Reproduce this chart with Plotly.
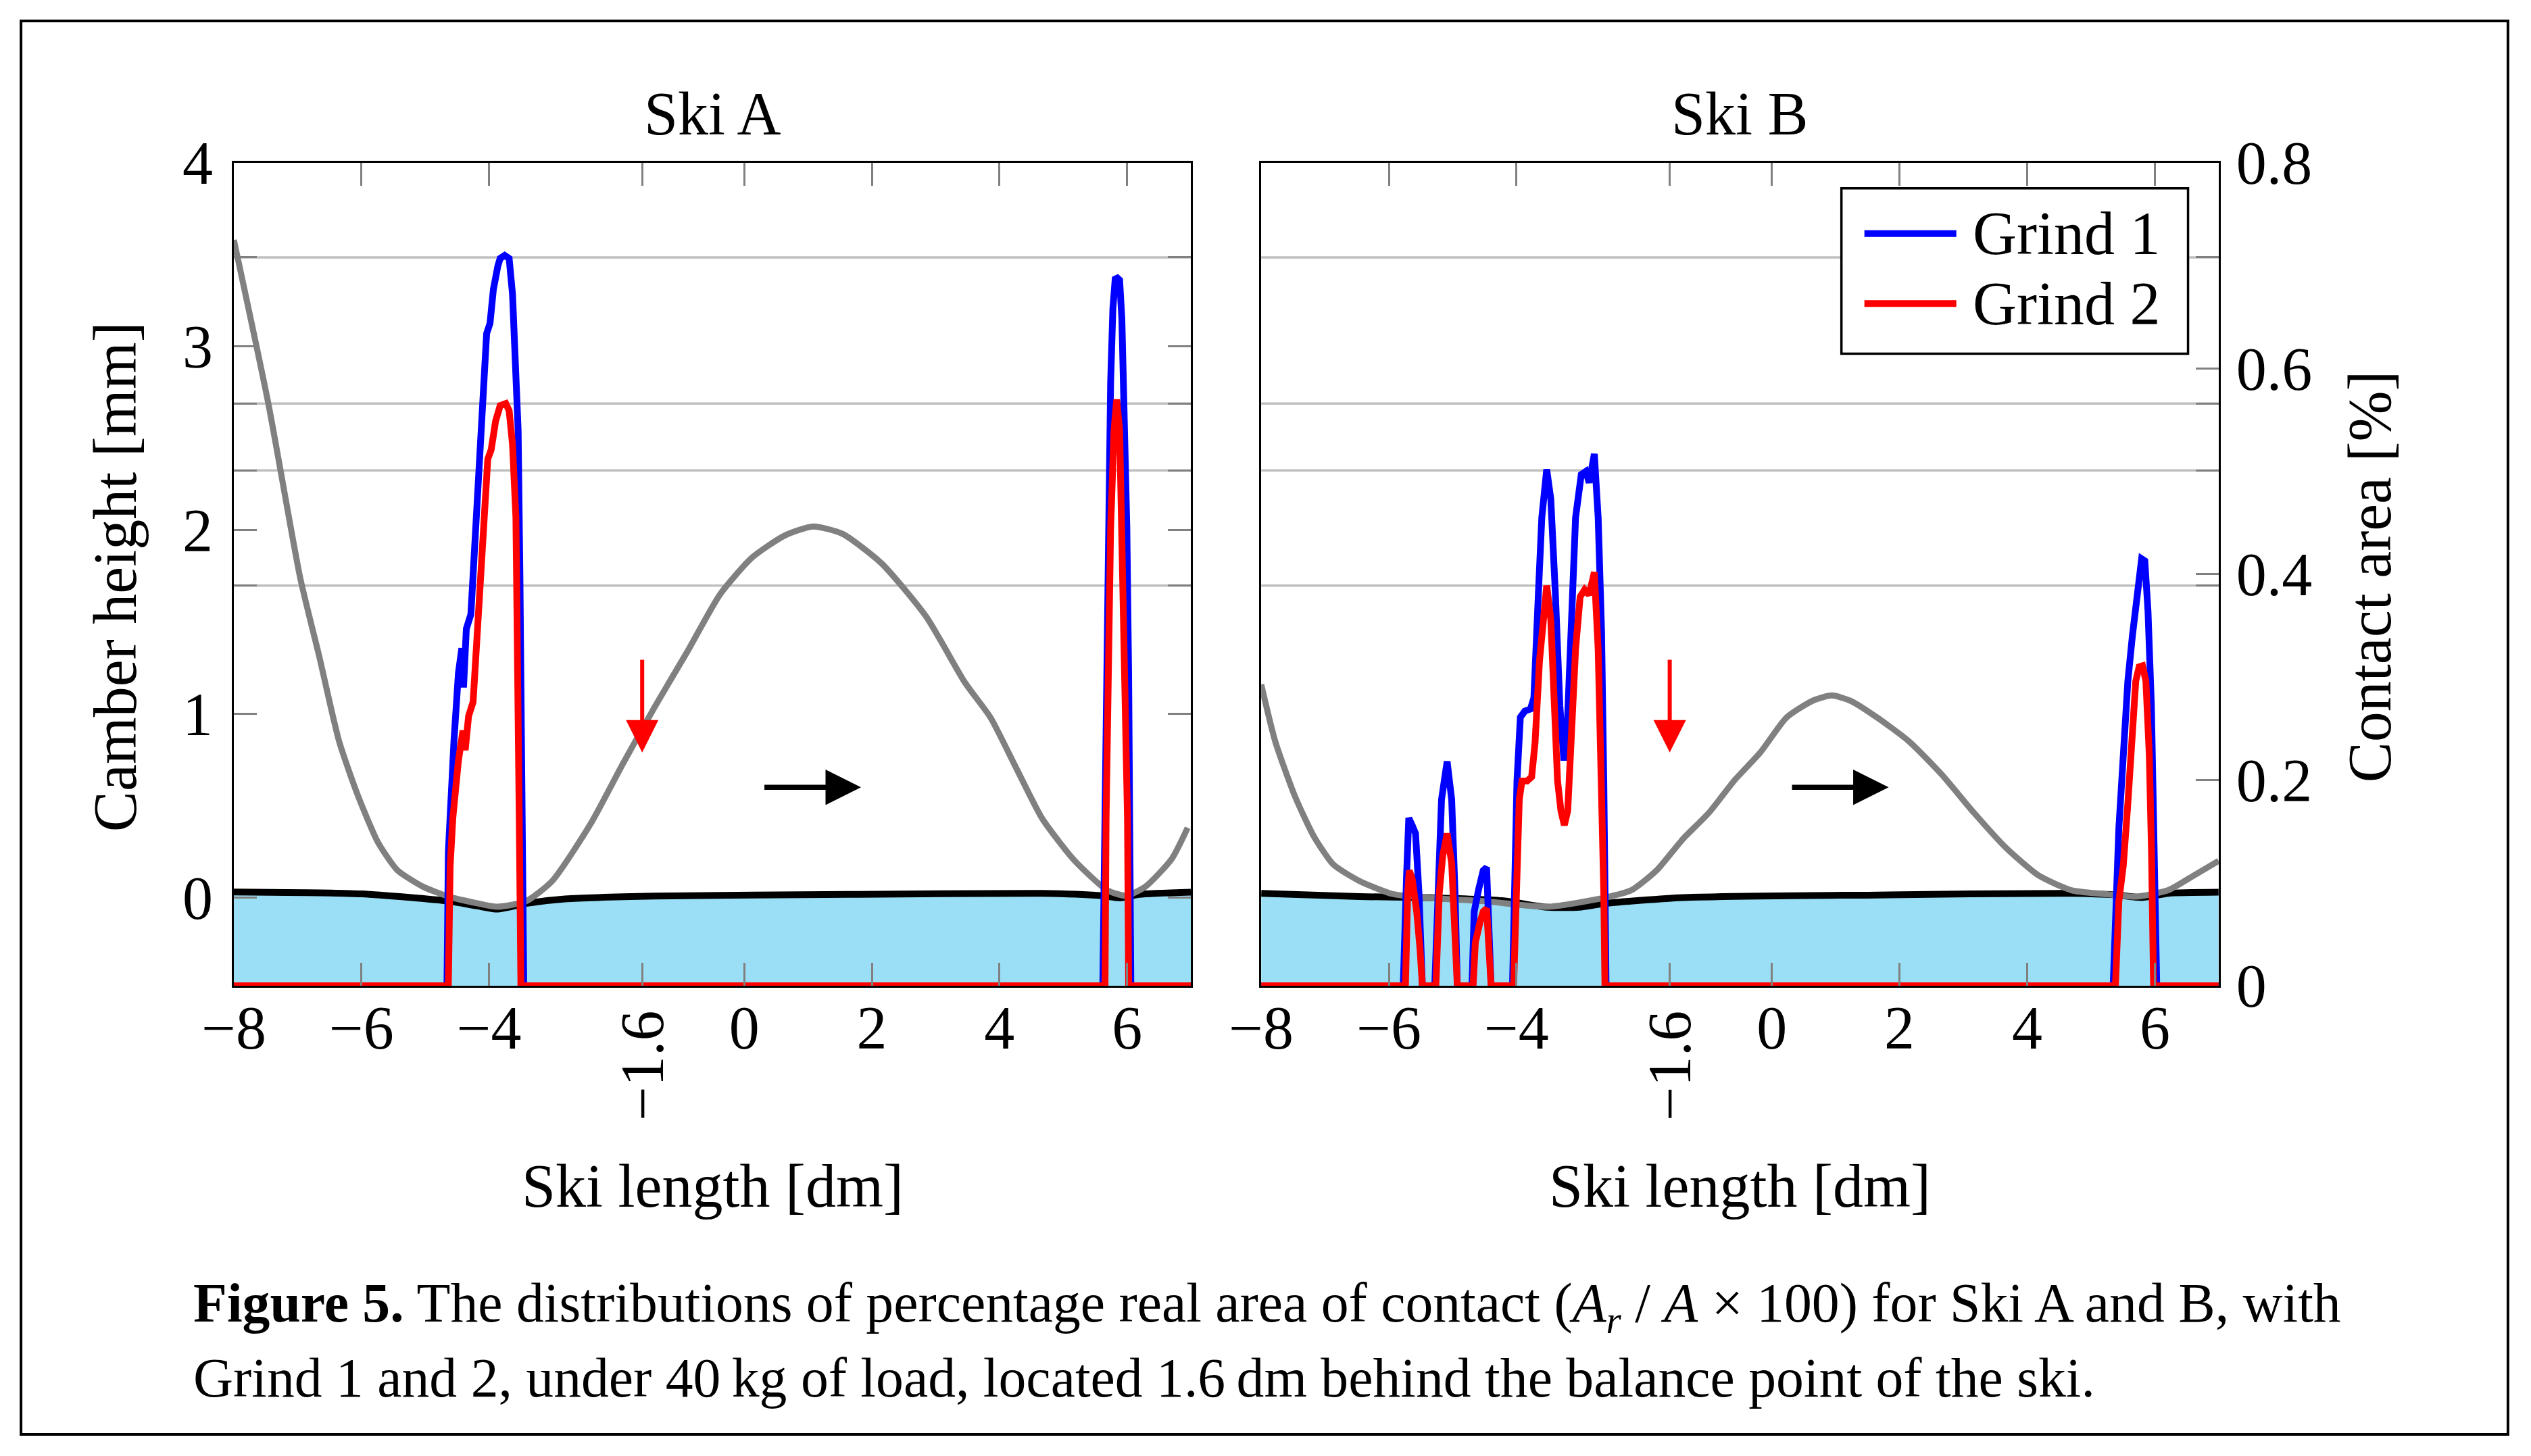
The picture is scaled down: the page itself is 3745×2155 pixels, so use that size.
import plotly.graph_objects as go

# ----------------------------------------------------------------- data ----
X_RANGE = [-8, 7]                      # ski length [dm]
CAMBER_RANGE = [-0.48, 4]              # camber height [mm]
CONTACT_RANGE = [0, 0.8]               # contact area [%]

X_TICKS = [-8, -6, -4, 0, 2, 4, 6]
X_TICK_TEXT = ["−8", "−6", "−4", "0", "2", "4", "6"]
LOAD_POS = -1.6                         # load position [dm], rotated tick
LOAD_TICK_TEXT = "−1.6"
CAMBER_TICKS = [0, 1, 2, 3, 4]
CAMBER_TICK_TEXT = ["0", "1", "2", "3", "4"]
CONTACT_TICKS = [0, 0.2, 0.4, 0.6, 0.8]
CONTACT_TICK_TEXT = ["0", "0.2", "0.4", "0.6", "0.8"]
PEAK_LEVELS = [0.389, 0.501, 0.566, 0.708]   # reference lines, contact area [%]

LOAD_ARROW_Y = [1.30, 0.79]             # [mm] start, tip
DIR_ARROW_X = [0.30, 1.83]              # [dm] start, tip
DIR_ARROW_Y = 0.60                      # [mm]

# Ski A - camber (grey)
A_camber_x = [-8.0, -7.46, -6.96, -6.66, -6.35, -6.05, -5.74, -5.44, -5.04, -4.63,
              -4.2, -3.87, -3.42, -3.01, -2.41, -1.90, -1.40, -0.89, -0.38, 0.12,
              0.63, 1.08, 1.54, 2.15, 2.85, 3.46, 3.86, 4.27, 4.67, 5.18,
              5.69, 5.99, 6.29, 6.70, 6.95]
A_camber_y = [3.58, 2.69, 1.74, 1.31, 0.85, 0.55, 0.30, 0.15, 0.06, 0.005,
              -0.03, -0.05, -0.02, 0.09, 0.40, 0.73, 1.04, 1.34, 1.65, 1.85,
              1.97, 2.02, 1.98, 1.82, 1.53, 1.17, 0.98, 0.70, 0.43, 0.20,
              0.04, 0.01, 0.06, 0.21, 0.38]
# Ski A - base profile (black)
A_base_x = [-8, -6, -4.63, -4.2, -3.87, -3.42, -2.81, -1.40, 1.64, 4.67, 5.58, 5.89, 6.19, 7.0]
A_base_y = [0.03, 0.02, -0.02, -0.045, -0.063, -0.032, -0.008, 0.008, 0.017, 0.023, 0.011, -0.002, 0.017, 0.029]
# Ski A - contact area, Grind 1
A_g1_x = [-8, -4.66, -4.638, -4.603, -4.55, -4.48, -4.427, -4.40, -4.356, -4.285, -4.25,
          -4.179, -4.109, -4.038, -3.985, -3.932, -3.861, -3.826, -3.755, -3.685, -3.632,
          -3.579, -3.544, -3.516, -3.501, -3.48, -3.456,
          5.62, 5.644, 5.672, 5.70, 5.743, 5.778, 5.814, 5.849, 5.884, 5.919, 5.955,
          5.997, 6.025, 6.043, 6.06, 7]
A_g1_y = [0, 0, 0.13, 0.186, 0.238, 0.304, 0.328, 0.29, 0.347, 0.361, 0.398,
          0.493, 0.564, 0.634, 0.644, 0.677, 0.700, 0.707, 0.710, 0.707, 0.672,
          0.610, 0.540, 0.398, 0.257, 0.116, 0,
          0, 0.139, 0.304, 0.445, 0.587, 0.658, 0.687, 0.688, 0.686, 0.648, 0.564,
          0.445, 0.304, 0.163, 0, 0]
# Ski A - contact area, Grind 2
A_g2_x = [-8, -4.638, -4.61, -4.568, -4.48, -4.409, -4.374, -4.321, -4.25, -4.179, -4.109,
          -4.02, -3.967, -3.897, -3.826, -3.738, -3.685, -3.632, -3.579, -3.544, -3.527, -3.501,
          5.655, 5.672, 5.708, 5.743, 5.796, 5.838, 5.884, 5.919, 5.972, 6.007, 6.025, 7]
A_g2_y = [0, 0, 0.116, 0.163, 0.219, 0.248, 0.229, 0.262, 0.276, 0.351, 0.445,
          0.512, 0.521, 0.549, 0.564, 0.566, 0.559, 0.526, 0.455, 0.304, 0.163, 0,
          0, 0.163, 0.304, 0.445, 0.540, 0.570, 0.540, 0.445, 0.304, 0.163, 0, 0]

# Ski B - camber (grey)
B_camber_x = [-8, -7.78, -7.47, -7.17, -6.87, -6.46, -5.95, -5.45, -4.5, -3.5,
              -2.61, -2.20, -1.80, -1.39, -0.99, -0.58, -0.18, 0.23, 0.63, 0.94,
              1.24, 1.65, 2.15, 2.66, 3.17, 3.67, 4.18, 4.69, 5.19, 5.70,
              6.21, 6.61, 7.0]
B_camber_y = [1.16, 0.85, 0.55, 0.33, 0.18, 0.09, 0.02, 0.0, -0.02, -0.05,
              0.0, 0.04, 0.15, 0.32, 0.46, 0.64, 0.79, 0.98, 1.07, 1.10,
              1.07, 0.98, 0.85, 0.67, 0.46, 0.27, 0.12, 0.04, 0.02, 0.005,
              0.04, 0.12, 0.20]
# Ski B - base profile (black)
B_base_x = [-8, -6.46, -5.45, -4.23, -3.52, -3.015, -2.61, -1.39, 1.65, 4.69, 5.40, 5.80, 6.21, 7.0]
B_base_y = [0.023, 0.005, 0.0, -0.017, -0.053, -0.053, -0.032, 0.0, 0.014, 0.023, 0.014, 0.0, 0.023, 0.029]
# Ski B - contact area, Grind 1
B_g1_x = [-8, -5.775, -5.722, -5.688, -5.635, -5.582, -5.528, -5.475,
          -5.281, -5.228, -5.175, -5.087, -5.016, -4.963, -4.928,
          -4.698, -4.663, -4.592, -4.522, -4.469, -4.433, -4.398,
          -4.063, -4.028, -3.993, -3.940, -3.869, -3.781, -3.728, -3.657, -3.604, -3.527,
          -3.463, -3.392, -3.321, -3.258, -3.209, -3.145, -3.075, -2.986, -2.915, -2.862,
          -2.781, -2.721, -2.668, -2.633, -2.615, -2.597,
          5.347, 5.383, 5.436, 5.506, 5.577, 5.648, 5.70, 5.73, 5.793, 5.843, 5.893,
          5.946, 5.981, 6.006, 6.03, 7]
B_g1_y = [0, 0, 0.108, 0.163, 0.156, 0.148, 0.090, 0,
          0, 0.090, 0.181, 0.218, 0.181, 0.090, 0,
          0, 0.072, 0.094, 0.112, 0.115, 0.072, 0,
          0, 0.090, 0.199, 0.261, 0.267, 0.269, 0.280, 0.382, 0.455, 0.502,
          0.473, 0.382, 0.272, 0.219, 0.247, 0.345, 0.455, 0.497, 0.500, 0.489,
          0.517, 0.455, 0.345, 0.199, 0.090, 0,
          0, 0.082, 0.153, 0.224, 0.296, 0.340, 0.37, 0.391, 0.415, 0.413, 0.364,
          0.272, 0.177, 0.082, 0, 0]
# Ski B - contact area, Grind 2
B_g2_x = [-8, -5.74, -5.705, -5.68, -5.635, -5.564, -5.511, -5.475,
          -5.263, -5.21, -5.157, -5.087, -5.016, -4.963, -4.928,
          -4.68, -4.645, -4.575, -4.522, -4.469, -4.433, -4.398,
          -4.045, -3.993, -3.957, -3.915, -3.834, -3.763, -3.71, -3.64, -3.587, -3.527,
          -3.463, -3.41, -3.357, -3.304, -3.251, -3.198, -3.145, -3.075, -3.004, -2.933,
          -2.862, -2.781, -2.721, -2.668, -2.633, -2.615,
          5.383, 5.436, 5.506, 5.577, 5.648, 5.701, 5.754, 5.807, 5.860, 5.913,
          5.948, 5.966, 5.98, 7]
B_g2_y = [0, 0, 0.090, 0.112, 0.104, 0.072, 0.035, 0,
          0, 0.090, 0.126, 0.148, 0.119, 0.053, 0,
          0, 0.042, 0.061, 0.072, 0.075, 0.046, 0,
          0, 0.090, 0.181, 0.199, 0.199, 0.203, 0.236, 0.316, 0.360, 0.389,
          0.356, 0.272, 0.199, 0.170, 0.156, 0.170, 0.236, 0.327, 0.378, 0.385,
          0.380, 0.402, 0.327, 0.199, 0.090, 0,
          0, 0.082, 0.117, 0.177, 0.248, 0.296, 0.310, 0.311, 0.296, 0.224,
          0.129, 0.058, 0, 0]

TITLES = ["Ski A", "Ski B"]
X_TITLE = "Ski length [dm]"
Y_TITLE_LEFT = "Camber height [mm]"
Y_TITLE_RIGHT = "Contact area [%]"
LEGEND_NAMES = ["Grind 1", "Grind 2"]
CAPTION_1 = ("<b>Figure 5.</b> The distributions of percentage real area of contact "
             "(<i>A<sub>r</sub></i> / <i>A</i> × 100) for Ski A and B, with")
CAPTION_2 = ("Grind 1 and 2, under 40\u2009kg of load, located 1.6\u2009dm behind "
             "the balance point of the ski.")

# ---------------------------------------------------------------- style ----
FONT = "Liberation Serif, Times New Roman, serif"
FS = 90
BLUE, RED, GREY = "#0000ff", "#ff0000", "#808080"
FILL = "#9bdff7"
TICKC = "#808080"
LW = 10

W, H = 3745, 2155
XA_DOM = [0.0924, 0.4705]
XB_DOM = [0.4983, 0.8766]
Y_DOM = [0.3230, 0.8882]

fig = go.Figure()

panels = [
    dict(x="x", y="y", yc="y2", cam=(A_camber_x, A_camber_y), base=(A_base_x, A_base_y),
         g1=(A_g1_x, A_g1_y), g2=(A_g2_x, A_g2_y)),
    dict(x="x2", y="y3", yc="y4", cam=(B_camber_x, B_camber_y), base=(B_base_x, B_base_y),
         g1=(B_g1_x, B_g1_y), g2=(B_g2_x, B_g2_y)),
]

for p in panels:
    # baseline at the bottom of the camber axis, for the filled area
    fig.add_trace(go.Scatter(x=X_RANGE, y=[CAMBER_RANGE[0]] * 2, mode="lines",
                             line=dict(width=0, color=FILL), xaxis=p["x"], yaxis=p["y"],
                             showlegend=False, hoverinfo="skip"))
    fig.add_trace(go.Scatter(x=p["base"][0], y=p["base"][1], mode="lines", fill="tonexty",
                             fillcolor=FILL, line=dict(color="black", width=10, shape="spline",
                                                       smoothing=0.6),
                             xaxis=p["x"], yaxis=p["y"], showlegend=False))
    fig.add_trace(go.Scatter(x=p["cam"][0], y=p["cam"][1], mode="lines",
                             line=dict(color=GREY, width=9, shape="spline", smoothing=0.6),
                             xaxis=p["x"], yaxis=p["y"], showlegend=False))
    fig.add_trace(go.Scatter(x=p["g1"][0], y=p["g1"][1], mode="lines", name=LEGEND_NAMES[0],
                             line=dict(color=BLUE, width=LW), xaxis=p["x"], yaxis=p["yc"],
                             showlegend=False))
    fig.add_trace(go.Scatter(x=p["g2"][0], y=p["g2"][1], mode="lines", name=LEGEND_NAMES[1],
                             line=dict(color=RED, width=LW), xaxis=p["x"], yaxis=p["yc"],
                             showlegend=False))

# ----------------------------------------------------------------- axes ----
contact_to_camber = lambda c: CAMBER_RANGE[0] + (c - CONTACT_RANGE[0]) / (
    CONTACT_RANGE[1] - CONTACT_RANGE[0]) * (CAMBER_RANGE[1] - CAMBER_RANGE[0])
extra_camber = [contact_to_camber(v) for v in PEAK_LEVELS]

tfont = dict(family=FONT, size=FS, color="black")
tick_style = dict(ticks="inside", ticklen=34, tickwidth=2.5, tickcolor=TICKC)
common_x = dict(range=X_RANGE, tickvals=X_TICKS, ticktext=X_TICK_TEXT, mirror="ticks",
                showline=True, linecolor="black", linewidth=3, showgrid=False, zeroline=False,
                tickfont=tfont, ticklabelstandoff=-18, automargin=False, tickangle=0,
                minor=dict(tickvals=[LOAD_POS], showgrid=False, **tick_style), **tick_style)

fig.update_layout(
    template="none",
    width=W, height=H, autosize=False,
    margin=dict(l=0, r=0, t=0, b=0, pad=0, autoexpand=False),
    paper_bgcolor="white", plot_bgcolor="white", showlegend=False,
    font=dict(family=FONT, size=FS, color="black"),
    xaxis=dict(domain=XA_DOM, anchor="y", **common_x),
    xaxis2=dict(domain=XB_DOM, anchor="y3", **common_x),
    yaxis=dict(domain=Y_DOM, anchor="x", range=CAMBER_RANGE,
               tickvals=CAMBER_TICKS, ticktext=CAMBER_TICK_TEXT, mirror="ticks",
               minor=dict(tickvals=extra_camber, showgrid=False, **tick_style),
               showline=True, linecolor="black", linewidth=3, showgrid=False, zeroline=False,
               tickfont=tfont, ticklabelstandoff=10, automargin=False, **tick_style),
    yaxis2=dict(overlaying="y", anchor="x", range=CONTACT_RANGE, visible=False,
                automargin=False),
    yaxis3=dict(domain=Y_DOM, anchor="x2", range=CAMBER_RANGE, showticklabels=False,
                ticks="", showline=True, linecolor="black", linewidth=3, showgrid=False,
                zeroline=False, automargin=False),
    yaxis4=dict(overlaying="y3", anchor="x2", side="right", range=CONTACT_RANGE,
                tickvals=CONTACT_TICKS, ticktext=CONTACT_TICK_TEXT,
                minor=dict(tickvals=PEAK_LEVELS, showgrid=False, **tick_style),
                showline=True, linecolor="black", linewidth=3, showgrid=False, zeroline=False,
                tickfont=tfont, ticklabelstandoff=5, automargin=False, **tick_style),
)

# ---------------------------------------------------- reference lines ----
shapes = []
for xd, yc in (("x domain", "y2"), ("x2 domain", "y4")):
    for lv in PEAK_LEVELS:
        shapes.append(dict(type="line", xref=xd, yref=yc, x0=0, x1=1, y0=lv, y1=lv,
                           line=dict(color="#bfbfbf", width=3.5), layer="below"))

# legend box in Ski B
shapes.append(dict(type="rect", xref="x2 domain", yref="y3 domain", x0=0.606, x1=0.968,
                   y0=0.768, y1=0.969, line=dict(color="black", width=3.5),
                   fillcolor="white", layer="above"))
for yy, col in ((0.914, BLUE), (0.829, RED)):
    shapes.append(dict(type="line", xref="x2 domain", yref="y3 domain", x0=0.630, x1=0.726,
                       y0=yy, y1=yy, line=dict(color=col, width=LW), layer="above"))

# outer frame
shapes.append(dict(type="rect", xref="paper", yref="paper", x0=0.0083, x1=0.9909,
                   y0=0.0149, y1=0.9856, line=dict(color="black", width=4)))

annotations = []
for xd, title in (("x domain", TITLES[0]), ("x2 domain", TITLES[1])):
    annotations.append(dict(xref=xd, yref="paper", x=0.5, y=0.922, text=title, showarrow=False,
                            xanchor="center", yanchor="middle", font=tfont))
    annotations.append(dict(xref=xd, yref="paper", x=0.5, y=0.1856, text=X_TITLE,
                            showarrow=False, xanchor="center", yanchor="middle", font=tfont))
for xr, yr in (("x", "y"), ("x2", "y3")):
    annotations.append(dict(xref=xr, yref="paper", x=LOAD_POS, y=0.268, text=LOAD_TICK_TEXT,
                            textangle=-90, showarrow=False, xanchor="center",
                            yanchor="middle", font=tfont))
    annotations.append(dict(xref=xr, yref=yr, axref=xr, ayref=yr, x=LOAD_POS,
                            y=LOAD_ARROW_Y[1], ax=LOAD_POS, ay=LOAD_ARROW_Y[0], text="",
                            showarrow=True, arrowhead=2, arrowsize=1.6, arrowwidth=6,
                            arrowcolor=RED))
    annotations.append(dict(xref=xr, yref=yr, axref=xr, ayref=yr, x=DIR_ARROW_X[1],
                            y=DIR_ARROW_Y, ax=DIR_ARROW_X[0], ay=DIR_ARROW_Y, text="",
                            showarrow=True, arrowhead=2, arrowsize=1.4, arrowwidth=7.5,
                            arrowcolor="black"))

annotations.append(dict(xref="paper", yref="paper", x=0.0456, y=0.604, text=Y_TITLE_LEFT,
                        textangle=-90, showarrow=False, xanchor="center", yanchor="middle",
                        font=tfont))
annotations.append(dict(xref="paper", yref="paper", x=0.9364, y=0.604, text=Y_TITLE_RIGHT,
                        textangle=-90, showarrow=False, xanchor="center", yanchor="middle",
                        font=tfont))
for yy, name in ((0.914, LEGEND_NAMES[0]), (0.829, LEGEND_NAMES[1])):
    annotations.append(dict(xref="x2 domain", yref="y3 domain", x=0.742, y=yy, text=name,
                            showarrow=False, xanchor="left", yanchor="middle", font=tfont))

cap = dict(family=FONT, size=81.7, color="black")
annotations.append(dict(xref="paper", yref="paper", x=0.0759, y=0.1026, text=CAPTION_1,
                        showarrow=False, xanchor="left", yanchor="middle", font=cap))
annotations.append(dict(xref="paper", yref="paper", x=0.0759, y=0.0534, text=CAPTION_2,
                        showarrow=False, xanchor="left", yanchor="middle", font=cap))

fig.update_layout(shapes=shapes, annotations=annotations)

fig.write_html("out.html", config={"displayModeBar": False, "responsive": False},
               post_script="document.body.style.margin='0';document.body.style.overflow='hidden';")
